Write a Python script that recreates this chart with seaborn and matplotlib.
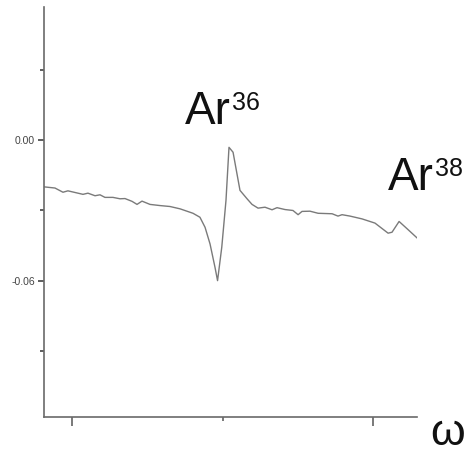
import matplotlib
matplotlib.use("Agg")
import matplotlib.pyplot as plt
import seaborn as sns
import pandas as pd
from matplotlib.ticker import FixedLocator

# --- data ---
omega = [0.814, 0.887, 0.940, 0.973, 1.073, 1.106, 1.153, 1.186, 1.219, 1.272,
         1.319, 1.352, 1.399, 1.432, 1.465, 1.518, 1.585, 1.651, 1.718, 1.804,
         1.850, 1.884, 1.917, 1.950, 1.967, 1.995, 2.023, 2.043, 2.070, 2.116,
         2.163, 2.196, 2.236, 2.282, 2.329, 2.362, 2.415, 2.468, 2.502, 2.528,
         2.581, 2.635, 2.728, 2.767, 2.794, 2.847, 2.927, 3.013, 3.100, 3.126,
         3.173, 3.226, 3.312]
signal = [-0.0199, -0.0204, -0.0222, -0.0216, -0.0231, -0.0226, -0.0237, -0.0233,
          -0.0244, -0.0244, -0.0250, -0.0249, -0.0261, -0.0274, -0.0260, -0.0274,
          -0.0279, -0.0283, -0.0293, -0.0312, -0.0329, -0.0372, -0.0443, -0.0543,
          -0.0600, -0.0457, -0.0257, -0.0030, -0.0051, -0.0214, -0.0250, -0.0274,
          -0.0290, -0.0286, -0.0297, -0.0288, -0.0296, -0.0300, -0.0318, -0.0304,
          -0.0303, -0.0312, -0.0314, -0.0324, -0.0318, -0.0324, -0.0336, -0.0354,
          -0.0397, -0.0393, -0.0347, -0.0378, -0.0429]
y_major = [0.00, -0.06]
y_major_labels = ["0.00", "-0.06"]
y_minor = [0.03, -0.03, -0.09]
x_major = [1, 3]
x_minor = [2]
peak_labels = [("Ar", "36"), ("Ar", "38")]
axis_label = "ω"

df = pd.DataFrame({"omega": omega, "signal": signal})

sns.set_style("white")
plt.rcParams["font.family"] = ["Liberation Sans", "DejaVu Sans"]

fig = plt.figure(figsize=(4.70, 4.53), dpi=100)
ax = fig.add_axes([44 / 470, 36 / 453, 373 / 470, 410 / 453])

sns.lineplot(data=df, x="omega", y="signal", ax=ax, color="#7a7a7a",
             linewidth=1.0, estimator=None, sort=False)

ax.set_xlim(0.814, 3.292)
ax.set_ylim(-0.1183, 0.057)
ax.set_xlabel("")
ax.set_ylabel("")

for s in ["top", "right"]:
    ax.spines[s].set_visible(False)
for s in ["left", "bottom"]:
    ax.spines[s].set_color("#6a6a6a")
    ax.spines[s].set_linewidth(1.2)

ax.yaxis.set_major_locator(FixedLocator(y_major))
ax.set_yticklabels(y_major_labels)
ax.yaxis.set_minor_locator(FixedLocator(y_minor))
ax.xaxis.set_major_locator(FixedLocator(x_major))
ax.set_xticklabels([])
ax.xaxis.set_minor_locator(FixedLocator(x_minor))

ax.tick_params(axis="y", which="major", direction="out", length=4.5, width=1.1,
               color="#333333", labelsize=7.5, labelcolor="#444444", pad=2, left=True)
ax.tick_params(axis="y", which="minor", direction="out", length=3, width=1.1,
               color="#333333", left=True)
ax.tick_params(axis="x", which="major", direction="out", length=6.5, width=1.1,
               color="#555555", bottom=True)
ax.tick_params(axis="x", which="minor", direction="out", length=3, width=1.1,
               color="#555555", bottom=True)

# peak annotations
positions = [(185 / 470, (453 - 124) / 453), (388 / 470, (453 - 190) / 453)]
for (base, sup), (fx, fy) in zip(peak_labels, positions):
    t = fig.text(fx, fy, base, fontsize=33, ha="left", va="baseline", color="#111111")
    ax.annotate(sup, xy=(1.0, 1.0), xycoords=t, xytext=(0.5, -1),
                textcoords="offset points", fontsize=18, ha="left", va="top",
                color="#111111", annotation_clip=False)

fig.text(430 / 470, 8 / 453, axis_label, fontsize=32, ha="left", va="baseline",
         color="#111111")

fig.savefig("out.png", dpi=100)
